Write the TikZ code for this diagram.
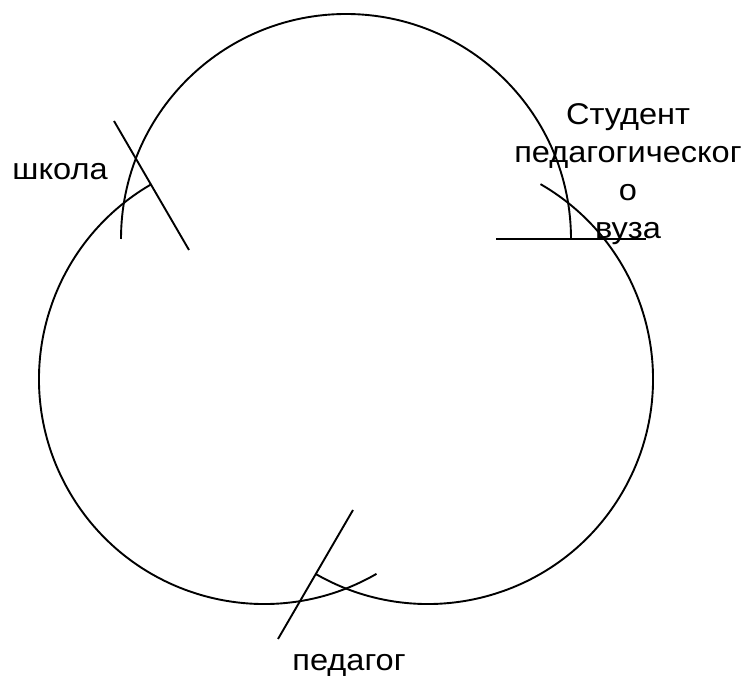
\documentclass[tikz,border=0pt]{standalone}
\usepackage{fontspec}
\setmainfont{Liberation Sans}
\usetikzlibrary{calc}
\tikzset{
  arcline/.style={line width=1.9pt, black},
  marker/.style={line width=1.9pt, black},
  lbl/.style={font=\fontsize{30}{38}\selectfont, inner sep=0pt, align=center, xscale=1.085, transform shape}
}
\begin{document}
\begin{tikzpicture}[x=1pt,y=1pt]
\useasboundingbox (0,0) rectangle (749,682);
% circle centres
\coordinate (T) at (346,443);
\coordinate (L) at (264,303);
\coordinate (R) at (428,303);
% arcs
\draw[arcline] ($(T)+(180:225)$) arc[start angle=180, end angle=0, radius=225];
\draw[arcline] ($(L)+(120:225)$) arc[start angle=120, end angle=300, radius=225];
\draw[arcline] ($(R)+(60:225)$) arc[start angle=60, end angle=-120, radius=225];
% marker lines
\coordinate (a1) at (114,561); \coordinate (a2) at (189,432);
\coordinate (b1) at (496,443); \coordinate (b2) at (646,443);
\coordinate (c1) at (353,172); \coordinate (c2) at (278,43);
\draw[marker] (a1) -- (a2);
\draw[marker] (b1) -- (b2);
\draw[marker] (c1) -- (c2);
% labels
\node[lbl, anchor=base] (school) at (60,502) {школа};
\node[lbl, anchor=north] (student) at (628,579) {Студент\\педагогическог\\о\\вуза};
\node[lbl, anchor=base] (teacher) at (349,11) {педагог};
\end{tikzpicture}
\end{document}
